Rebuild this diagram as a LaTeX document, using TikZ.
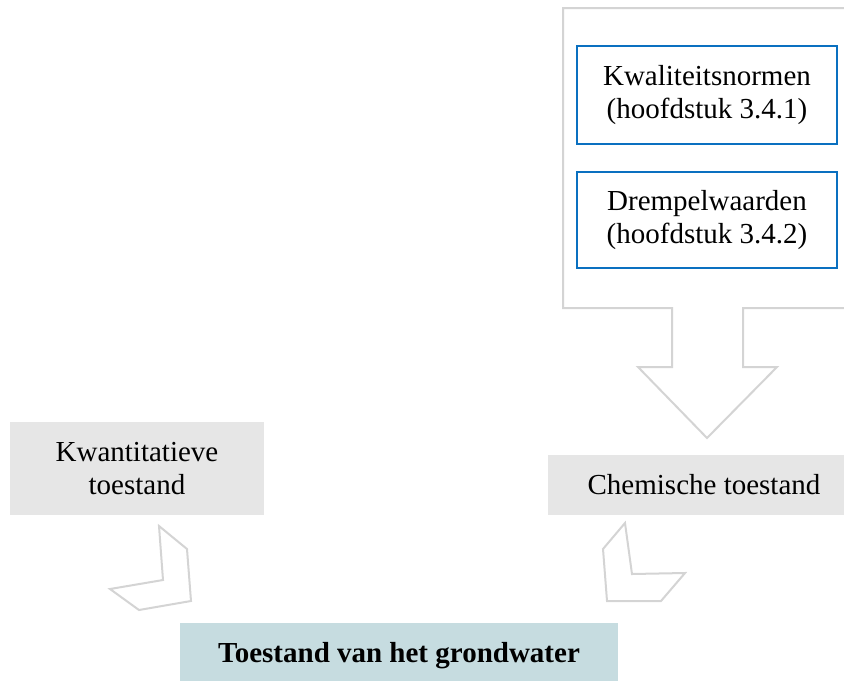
\documentclass[tikz,border=0pt]{standalone}
\usepackage{fontspec}
\setmainfont{Liberation Serif}
\usetikzlibrary{positioning}

\definecolor{normblue}{HTML}{0A70C0}
\definecolor{boxgray}{HTML}{E6E6E6}
\definecolor{outlinegray}{HTML}{D4D4D4}
\definecolor{goalteal}{HTML}{C6DCE0}

\begin{document}
\begin{tikzpicture}[x=1pt, y=-1pt,
    norm/.style={rectangle, draw=normblue, line width=2pt, fill=white, minimum width=260pt,
                 minimum height=98pt, align=center, font=\fontsize{29}{33}\selectfont},
    state/.style={rectangle, fill=boxgray, align=center, inner sep=0pt,
                  font=\fontsize{29}{33}\selectfont},
    goal/.style={rectangle, fill=goalteal, minimum width=438pt, minimum height=58pt,
                 text height=28pt, font=\fontsize{29}{33}\selectfont\bfseries},
    bigarrow/.style={draw=outlinegray, line width=2pt, line join=miter, fill=white}]

    \useasboundingbox (0,0) rectangle (844,681);
    \clip (0,0) rectangle (844,681);

    % Frame with arrow
    \draw[bigarrow] (870,8) -- (563,8) -- (563,308) -- (672,308) -- (672,367) -- (638,367)
        -- (707,438) -- (777,367) -- (743,367) -- (743,308) -- (870,308);

    % Nodes
    \node[norm] (kwaliteit) at (707,95) {Kwaliteitsnormen\\(hoofdstuk 3.4.1)};
    \node[norm, minimum height=96pt] (drempel) at (707,220) {Drempelwaarden\\(hoofdstuk 3.4.2)};
    \node[state, minimum width=254pt, minimum height=93pt] (kwantitatief) at (137,468.5)
        {Kwantitatieve\\toestand};
    \node[state, minimum width=312pt, minimum height=60pt] (chemisch) at (704,485)
        {Chemische toestand};
    \node[goal] (grondwater) at (399,652) {Toestand van het grondwater};

    % Bent arrows
    \draw[bigarrow] (159,526) -- (187,549) -- (191,601) -- (139,610) -- (110,589)
        -- (163,580) -- cycle;
    \draw[bigarrow] (625,523) -- (603,549) -- (607,601) -- (661,601) -- (685,573)
        -- (632,574) -- cycle;

\end{tikzpicture}
\end{document}
